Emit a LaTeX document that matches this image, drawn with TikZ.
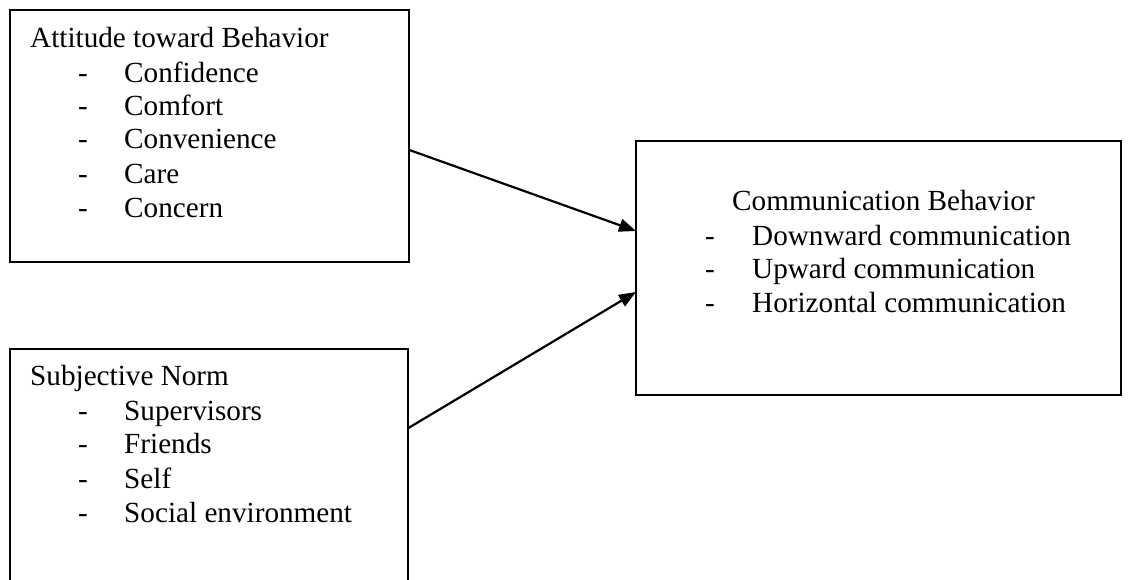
\documentclass[tikz,border=0pt]{standalone}
\usepackage{fontspec}
\setmainfont{Liberation Serif}
\usetikzlibrary{arrows.meta}
\begin{document}
\begin{tikzpicture}[x=1pt,y=-1pt,
  box/.style={draw=black,line width=1.6pt},
  txt/.style={anchor=base west,inner sep=0pt,font=\fontsize{29.2}{34}\selectfont},
  conn/.style={line width=2.2pt,-{Triangle[length=17pt,width=13pt]}}]
\clip (0,0) rectangle (1130,579);
\fill[white] (0,0) rectangle (1130,579);
% boxes
\draw[box] (10,10) rectangle (409,262);
\node[inner sep=0pt,minimum width=399pt,minimum height=252pt,anchor=north west] (A) at (10,10) {};
\draw[box] (10,349) rectangle (408,640);
\node[inner sep=0pt,minimum width=398pt,minimum height=291pt,anchor=north west] (B) at (10,349) {};
\draw[box] (636,141) rectangle (1121,395);
\node[inner sep=0pt,minimum width=485pt,minimum height=254pt,anchor=north west] (C) at (636,141) {};
% box A text
\node[txt] (a0) at (30,47) {Attitude toward Behavior};
\foreach \y/\t [count=\i] in {82/Confidence,115/Comfort,148/Convenience,183/Care,217/Concern}{
  \node[txt] (ad\i) at (78,\y) {-};
  \node[txt] (ai\i) at (124,\y) {\t};
}
% box B text
\node[txt] (b0) at (30,385) {Subjective Norm};
\foreach \y/\t [count=\i] in {420/Supervisors,453/Friends,488/Self,522/Social environment}{
  \node[txt] (bd\i) at (78,\y) {-};
  \node[txt] (bi\i) at (124,\y) {\t};
}
% box C text
\node[txt] (c0) at (732,210) {Communication Behavior};
\foreach \y/\t [count=\i] in {245/Downward communication,278/Upward communication,312/Horizontal communication}{
  \node[txt] (cd\i) at (705,\y) {-};
  \node[txt] (ci\i) at (752,\y) {\t};
}
% connectors
\coordinate (a1) at (A.north east |- 0,150);
\coordinate (c1) at (C.north west |- 0,231);
\coordinate (b1) at (B.north east |- 0,428);
\coordinate (c2) at (C.north west |- 0,292);
\draw[conn] (a1) -- (c1);
\draw[conn] (b1) -- (c2);
\end{tikzpicture}
\end{document}
